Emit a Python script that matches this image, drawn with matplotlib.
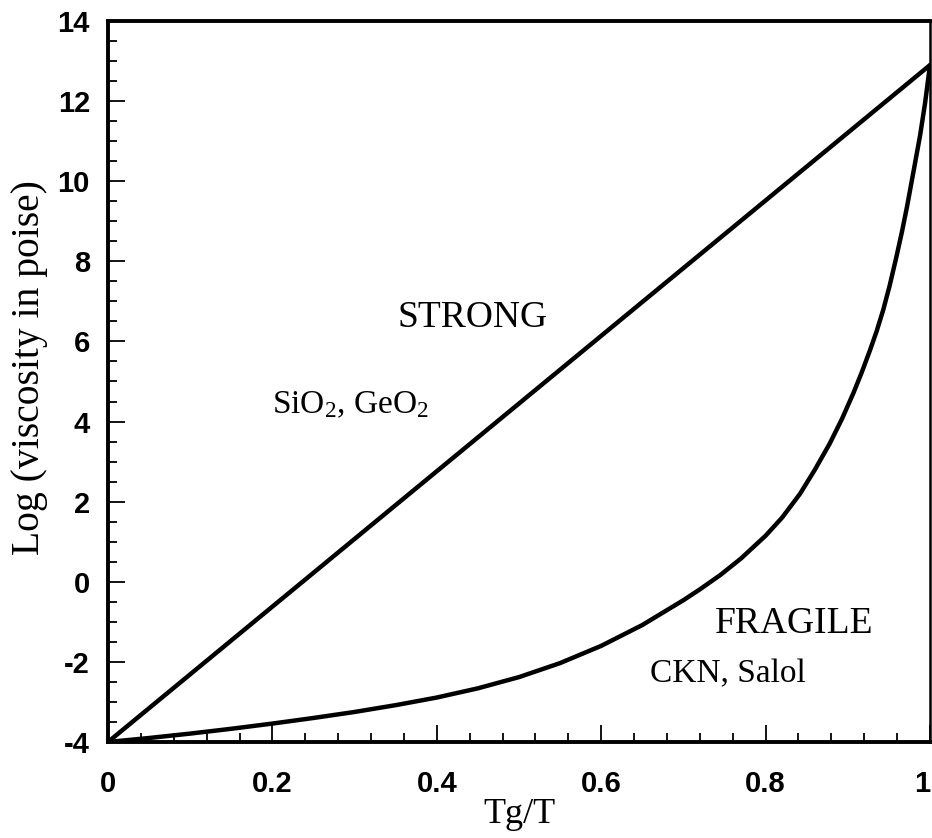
import matplotlib
matplotlib.use("Agg")
import matplotlib.pyplot as plt
from matplotlib.ticker import MultipleLocator

# strong liquid (straight Arrhenius line)
tg_strong = [0.0, 1.0]
eta_strong = [-4.0, 12.9]

# fragile liquid
tg_fragile = [0.0, 0.05, 0.1, 0.15, 0.2, 0.25, 0.3, 0.35, 0.4, 0.45, 0.5, 0.55,
              0.6, 0.65, 0.7, 0.72, 0.745, 0.77, 0.8, 0.82, 0.842, 0.86, 0.878,
              0.893, 0.907, 0.917, 0.927, 0.935, 0.943, 0.951, 0.959, 0.966,
              0.972, 0.98, 0.988, 0.994, 1.0]
eta_fragile = [-4.0, -3.9, -3.79, -3.67, -3.54, -3.4, -3.25, -3.08, -2.89, -2.66,
               -2.38, -2.03, -1.6, -1.08, -0.46, -0.19, 0.17, 0.58, 1.15, 1.6,
               2.2, 2.8, 3.45, 4.07, 4.72, 5.23, 5.78, 6.25, 6.78, 7.4, 8.1,
               8.75, 9.36, 10.25, 11.15, 11.95, 12.9]

x_ticks = [0, 0.2, 0.4, 0.6, 0.8, 1]
x_ticklabels = ["0", "0.2", "0.4", "0.6", "0.8", "1"]
y_ticks = [-4, -2, 0, 2, 4, 6, 8, 10, 12, 14]

serif = "Liberation Serif"
sans = "Liberation Sans"

plt.rcParams["axes.unicode_minus"] = False
plt.rcParams["mathtext.fontset"] = "custom"
plt.rcParams["mathtext.rm"] = serif
plt.rcParams["mathtext.it"] = serif + ":italic"
plt.rcParams["mathtext.bf"] = serif + ":bold"
plt.rcParams["mathtext.default"] = "rm"

fig = plt.figure(figsize=(9.32, 8.38), dpi=100)
ax = fig.add_axes([108/932, 96/838, 822/932, 721/838])

ax.plot(tg_strong, eta_strong, color="black", lw=3.2, solid_capstyle="round")
ax.plot(tg_fragile, eta_fragile, color="black", lw=3.2, solid_capstyle="round",
        solid_joinstyle="round")

ax.set_xlim(0, 1)
ax.set_ylim(-4, 14)
ax.set_xticks(x_ticks)
ax.set_xticklabels(x_ticklabels)
ax.set_yticks(y_ticks)
ax.xaxis.set_minor_locator(MultipleLocator(0.04))
ax.yaxis.set_minor_locator(MultipleLocator(0.5))
ax.tick_params(which="both", direction="in", top=False, right=False, width=1.3)
ax.tick_params(which="major", length=12.5)
ax.tick_params(which="minor", length=6.5)
ax.tick_params(axis="x", pad=20)
ax.tick_params(axis="y", pad=13)
for lbl in ax.get_xticklabels() + ax.get_yticklabels():
    lbl.set_fontfamily(sans)
    lbl.set_fontweight("bold")
    lbl.set_fontsize(21)
# the last x label sits right on the figure edge
ax.get_xticklabels()[-1].set_horizontalalignment("right")

for side in ["left", "bottom", "top"]:
    ax.spines[side].set_linewidth(2.8)
ax.spines["right"].set_linewidth(1.8)

ax.set_xlabel("Tg/T", fontfamily=serif, fontsize=26)
ax.set_ylabel("Log (viscosity in poise)", fontfamily=serif, fontsize=28.5)
ax.xaxis.set_label_coords(0.5, -0.078)
ax.yaxis.set_label_coords(-0.073, 0.52)

ax.text(0.352, 6.35, "STRONG", fontfamily=serif, fontsize=27)
ax.text(0.2, 4.2, "SiO$_{2}$, GeO$_{2}$", fontfamily=serif, fontsize=24)
ax.text(0.738, -1.27, "FRAGILE", fontfamily=serif, fontsize=27)
ax.text(0.659, -2.52, "CKN, Salol", fontfamily=serif, fontsize=24)

fig.savefig("out.png", dpi=100)
